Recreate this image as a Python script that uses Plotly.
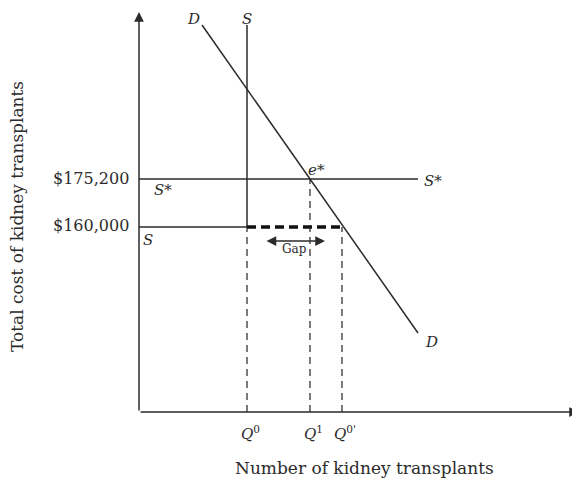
import plotly.graph_objects as go

# ---- data (schematic units) ----
quantities = [108, 171, 203]            # Q0, Q1, Q0'
q_labels = ["<i>Q</i><sup>0</sup>", "<i>Q</i><sup>1</sup>", "<i>Q</i><sup>0'</sup>"]
prices = [185, 233]                      # $160,000 , $175,200
price_labels = ["$160,000", "$175,200"]
supply_top = 387
demand_x = [63, 279]
demand_y = [387, 79]
sstar_end = 279
gap_x = [126, 186]
gap_y = 171
x_max, y_max = 441, 400

Q0, Q1, Q0p = quantities
P0, P1 = prices

ink = "#2b2b2b"
font_fam = "DejaVu Serif, Liberation Serif, serif"

fig = go.Figure()

def line(x, y, width=1.5, dash="solid", color=ink):
    fig.add_trace(go.Scatter(x=x, y=y, mode="lines", showlegend=False,
                             hoverinfo="skip", cliponaxis=False,
                             line=dict(color=color, width=width, dash=dash)))

# supply S (vertical) and S horizontal at $160,000
line([Q0, Q0], [P0, supply_top])
line([0, Q0], [P0, P0])
# S* at $175,200
line([0, sstar_end], [P1, P1])
# demand
line(demand_x, demand_y)
# thick dashed gap
line([Q0, Q0p], [P0, P0], width=3.5, dash="9px,5px", color="#111")
# thin dashed verticals
line([Q0, Q0], [0, P0], width=1.2, dash="7px,5px", color="#222")
line([Q1, Q1], [0, P1], width=1.2, dash="7px,5px", color="#222")
line([Q0p, Q0p], [0, P0], width=1.2, dash="7px,5px", color="#222")

ann = []
# axes with arrows
ann.append(dict(x=0, y=y_max, ax=0, ay=0, xref="x", yref="y", axref="x", ayref="y",
                showarrow=True, arrowhead=2, arrowsize=1.3, arrowwidth=1.5,
                arrowcolor=ink, text=""))
ann.append(dict(x=x_max - 1, y=0, ax=0, ay=0, xref="x", yref="y", axref="x", ayref="y",
                showarrow=True, arrowhead=2, arrowsize=1.3, arrowwidth=1.5,
                arrowcolor=ink, text=""))
# gap double arrow
ann.append(dict(x=gap_x[1], y=gap_y, ax=gap_x[0], ay=gap_y, xref="x", yref="y",
                axref="x", ayref="y", showarrow=True, arrowhead=2, startarrowhead=2,
                arrowside="end+start", arrowsize=1.3, arrowwidth=1.5,
                arrowcolor=ink, text=""))

def txt(x, y, s, size=15, xa="center", ya="middle", angle=0):
    ann.append(dict(x=x / x_max, y=y / y_max, xref="paper", yref="paper", text=s,
                    showarrow=False, xanchor=xa, yanchor=ya, textangle=angle,
                    font=dict(family=font_fam, size=size, color=ink)))

txt(155, 163, "Gap", size=12)
txt(54, 404, "<i>D</i>", ya="top")
txt(108, 404, "<i>S</i>", ya="top")
txt(177, 242, "<i>e*</i>")
txt(283, 231, "<i>S*</i>", xa="left")
txt(24, 222, "<i>S*</i>")
txt(9, 172, "<i>S</i>")
txt(292, 70, "<i>D</i>")

# y tick labels
for p, lab in zip(prices, price_labels):
    txt(-8, p + 1, lab, size=16, xa="right")
# x tick labels
for q, lab in zip(quantities, q_labels):
    txt(q + 3, -21, lab, size=15)

# axis titles
txt(225, -56, "Number of kidney transplants", size=17)
txt(-122, 195, "Total cost of kidney transplants", size=17, angle=-90)

fig.update_layout(
    width=572, height=477,
    margin=dict(l=131, r=0, t=4, b=73),
    paper_bgcolor="white", plot_bgcolor="white",
    annotations=ann,
    xaxis=dict(range=[0, x_max], visible=False, fixedrange=True),
    yaxis=dict(range=[0, y_max], visible=False, fixedrange=True),
)

fig.write_html("out.html")
